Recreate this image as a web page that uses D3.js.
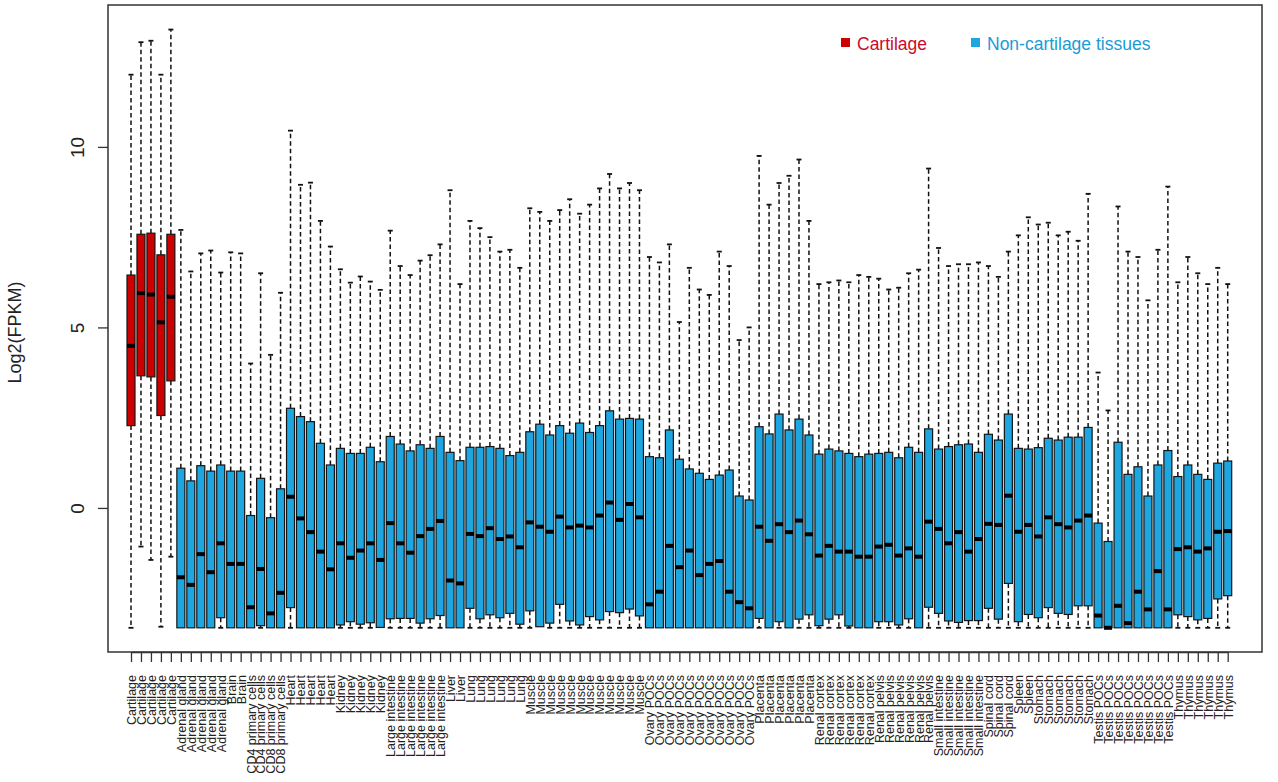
<!DOCTYPE html>
<html>
<head>
<meta charset="utf-8">
<script src="https://cdn.jsdelivr.net/npm/d3@7/dist/d3.min.js"></script>
<style>
  html, body { margin: 0; padding: 0; background: #fff; }
  svg { display: block; font-family: "Liberation Sans", Arial, sans-serif; }
</style>
</head>
<body>
<svg id="chart" width="1278" height="782"></svg>
<script>
// Expression (log2 FPKM) distributions per sample, grouped by tissue.
const FLOOR = -3.32;

const tissues = [
  "Cartilage","Cartilage","Cartilage","Cartilage","Cartilage",
  "Adrenal gland","Adrenal gland","Adrenal gland","Adrenal gland","Adrenal gland",
  "Brain","Brain",
  "CD4 primary cells","CD4 primary cells",
  "CD8 primary cells","CD8 primary cells",
  "Heart","Heart","Heart","Heart","Heart",
  "Kidney","Kidney","Kidney","Kidney","Kidney",
  "Large intestine","Large intestine","Large intestine","Large intestine","Large intestine","Large intestine",
  "Liver","Liver",
  "Lung","Lung","Lung","Lung","Lung","Lung",
  "Muscle","Muscle","Muscle","Muscle","Muscle","Muscle","Muscle","Muscle","Muscle","Muscle","Muscle","Muscle",
  "Ovary POCs","Ovary POCs","Ovary POCs","Ovary POCs","Ovary POCs","Ovary POCs","Ovary POCs","Ovary POCs","Ovary POCs","Ovary POCs","Ovary POCs",
  "Placenta","Placenta","Placenta","Placenta","Placenta","Placenta",
  "Renal cortex","Renal cortex","Renal cortex","Renal cortex","Renal cortex","Renal cortex",
  "Renal pelvis","Renal pelvis","Renal pelvis","Renal pelvis","Renal pelvis","Renal pelvis",
  "Small intestine","Small intestine","Small intestine","Small intestine","Small intestine",
  "Spinal cord","Spinal cord","Spinal cord",
  "Spleen","Spleen",
  "Stomach","Stomach","Stomach","Stomach","Stomach","Stomach",
  "Testis POCs","Testis POCs","Testis POCs","Testis POCs","Testis POCs","Testis POCs","Testis POCs","Testis POCs",
  "Thymus","Thymus","Thymus","Thymus","Thymus","Thymus"
];

// Upper whisker ends
const upperWhisker = [
  12.0, 12.9, 12.94, 12.0, 13.25,
  7.7, 6.55, 7.05, 7.13, 6.52,
  7.08, 7.05,
  4.0, 6.5,
  4.24, 5.96,
  10.45, 8.95, 9.01, 7.95, 7.24,
  6.61, 6.24, 6.41, 6.27, 6.04,
  7.68, 6.70, 6.45, 6.85, 7.0, 7.3,
  8.8, 6.2,
  7.95, 7.75, 7.5, 7.1, 7.15, 6.65,
  8.3, 8.2, 7.95, 8.25, 8.55, 8.15, 8.4, 8.85, 9.25, 8.85, 9.0, 8.8,
  6.95, 6.8, 7.3, 5.15, 6.65, 6.05, 5.9, 7.1, 6.7, 4.65, 5.0,
  9.75, 8.4, 9.0, 9.2, 9.65, 7.95,
  6.2, 6.25, 6.3, 6.25, 6.45, 6.4,
  6.35, 6.05, 6.1, 6.5, 6.6, 9.4,
  7.2, 6.7, 6.75, 6.75, 6.8,
  6.7, 6.4, 7.1,
  7.55, 8.05,
  7.85, 7.9, 7.55, 7.65, 7.4, 8.7,
  3.75, 2.7, 8.35, 7.1, 6.95, 5.75, 7.15, 8.9,
  6.25, 6.95, 6.5, 6.2, 6.65, 6.2
];

// Upper quartiles
const q3 = [
  6.45, 7.58, 7.61, 7.01, 7.58,
  1.10, 0.75, 1.17, 1.02, 1.19,
  1.02, 1.02,
  -0.21, 0.82,
  -0.27, 0.53,
  2.76, 2.53, 2.39, 1.79, 1.19,
  1.65, 1.51, 1.51, 1.68, 1.28,
  1.98, 1.77, 1.58, 1.75, 1.65, 1.98,
  1.54, 1.31,
  1.68, 1.68, 1.70, 1.65, 1.45, 1.54,
  2.11, 2.32, 2.02, 2.28, 2.07, 2.35, 2.09, 2.28, 2.69, 2.46, 2.48, 2.46,
  1.42, 1.39, 2.16, 1.35, 1.08, 0.96, 0.79, 0.91, 1.05, 0.33, 0.22,
  2.25, 2.05, 2.60, 2.16, 2.46, 2.02,
  1.49, 1.63, 1.58, 1.51, 1.42, 1.49,
  1.51, 1.54, 1.39, 1.68, 1.54, 2.19,
  1.63, 1.70, 1.75, 1.77, 1.54,
  2.04, 1.88, 2.60,
  1.65, 1.63,
  1.67, 1.93, 1.88, 1.96, 1.96, 2.23,
  -0.42, -0.93, 1.82, 0.93, 1.14, 0.33, 1.19, 1.59,
  0.87, 1.19, 0.93, 0.79, 1.24, 1.30
];

// Medians
const medians = [
  4.49, 5.95, 5.91, 5.14, 5.85,
  -1.92, -2.13, -1.28, -1.78, -0.98,
  -1.55, -1.55,
  -2.75, -1.69,
  -2.92, -2.35,
  0.31, -0.29, -0.67, -1.21, -1.70,
  -0.98, -1.38, -1.18, -0.98, -1.44,
  -0.42, -0.98, -1.24, -0.78, -0.58, -0.36,
  -2.01, -2.09,
  -0.72, -0.78, -0.56, -0.86, -0.79, -1.09,
  -0.40, -0.52, -0.66, -0.24, -0.54, -0.49, -0.54, -0.21, 0.15, -0.33, 0.11, -0.26,
  -2.67, -2.32, -1.05, -1.64, -1.18, -1.86, -1.55, -1.47, -2.32, -2.61, -2.78,
  -0.52, -0.91, -0.45, -0.67, -0.35, -0.73,
  -1.32, -1.05, -1.21, -1.21, -1.35, -1.35,
  -1.07, -1.02, -1.32, -1.12, -1.35, -0.38,
  -0.58, -0.98, -0.67, -1.21, -0.86,
  -0.44, -0.47, 0.34,
  -0.66, -0.47,
  -0.79, -0.26, -0.45, -0.54, -0.35, -0.21,
  -2.98, -3.32, -2.71, -3.19, -2.32, -2.81, -1.75, -2.81,
  -1.14, -1.09, -1.21, -1.12, -0.66, -0.64
];

// Lower quartiles
const q1 = [
  2.28, 3.66, 3.63, 2.56, 3.52,
  -3.32, -3.32, -3.32, -3.32, -3.04,
  -3.32, -3.32,
  -3.32, -3.26,
  -3.32, -3.32,
  -2.76, -3.32, -3.32, -3.32, -3.32,
  -3.24, -3.15, -3.22, -3.18, -3.31,
  -3.07, -3.06, -3.06, -3.19, -3.07, -2.98,
  -3.32, -3.32,
  -2.78, -3.07, -2.96, -3.04, -2.92, -3.22,
  -2.85, -3.29, -3.19, -2.67, -3.13, -3.24, -3.01, -3.10, -2.87, -2.90, -2.80, -2.99,
  -3.32, -3.32, -3.32, -3.32, -3.32, -3.32, -3.32, -3.32, -3.32, -3.32, -3.32,
  -3.06, -3.32, -3.15, -3.32, -3.08, -2.96,
  -3.26, -3.08, -2.96, -3.27, -3.32, -3.32,
  -3.15, -3.15, -3.24, -3.07, -3.32, -2.75,
  -2.92, -3.13, -3.17, -3.12, -3.12,
  -2.78, -3.08, -2.09,
  -3.15, -2.95,
  -3.04, -2.76, -2.92, -2.95, -2.71, -2.71,
  -3.32, -3.32, -3.32, -3.32, -3.32, -3.32, -3.32, -3.32,
  -2.96, -3.01, -3.10, -3.06, -2.52, -2.43
];

// Lower whisker ends (non-cartilage samples all reach the floor value)
const cartilageLow = [-3.32, -1.07, -1.44, -3.29, -1.35];
const lowerWhisker = tissues.map((t, i) => i < cartilageLow.length ? cartilageLow[i] : FLOOR);

const yTicks = [0, 5, 10];
const legendItems = ["Cartilage", "Non-cartilage tissues"];

const RED = "#CC0000", BLUE = "#1DA6DF";
const RED_TEXT = "#CC0A2A", BLUE_TEXT = "#1B9BD5";

const svg = d3.select("#chart");
svg.append("rect").attr("width", 1278).attr("height", 782).attr("fill", "#fff");

const plot = { left: 108, right: 1262, top: 5, bottom: 652 };

const x = d3.scalePoint()
  .domain(d3.range(tissues.length))
  .range([131, 1227.7]);

const y = d3.scaleLinear()
  .domain([-3.99, 13.93])
  .range([plot.bottom, plot.top]);

const boxW = 8, stapleW = 4;

const data = tissues.map((t, i) => ({
  i, t,
  hi: upperWhisker[i], q3: q3[i], med: medians[i], q1: q1[i], lo: lowerWhisker[i],
  fill: t === "Cartilage" ? RED : BLUE
}));

const g = svg.append("g");
const wk = g.selectAll("g.box").data(data).join("g").attr("class", "box");

// upper whiskers with staples
wk.append("line")
  .attr("x1", d => x(d.i)).attr("x2", d => x(d.i))
  .attr("y1", d => y(d.q3)).attr("y2", d => y(d.hi))
  .attr("stroke", "#111").attr("stroke-width", 1.5)
  .attr("stroke-dasharray", "4.5,3");

wk.append("line")
  .attr("x1", d => x(d.i) - stapleW / 2 - 0.5).attr("x2", d => x(d.i) + stapleW / 2 + 0.5)
  .attr("y1", d => y(d.hi)).attr("y2", d => y(d.hi))
  .attr("stroke", "#111").attr("stroke-width", 1.8);

// lower whiskers where the box does not already reach the bottom
const withLow = wk.filter(d => d.q1 - d.lo > 0.03);
withLow.append("line")
  .attr("x1", d => x(d.i)).attr("x2", d => x(d.i))
  .attr("y1", d => y(d.q1)).attr("y2", d => y(d.lo))
  .attr("stroke", "#111").attr("stroke-width", 1.5)
  .attr("stroke-dasharray", "4.5,3");
withLow.append("line")
  .attr("x1", d => x(d.i) - stapleW / 2 - 0.5).attr("x2", d => x(d.i) + stapleW / 2 + 0.5)
  .attr("y1", d => y(d.lo)).attr("y2", d => y(d.lo))
  .attr("stroke", "#111").attr("stroke-width", 1.8);

// boxes
wk.append("rect")
  .attr("x", d => x(d.i) - boxW / 2)
  .attr("width", boxW)
  .attr("y", d => y(d.q3))
  .attr("height", d => y(d.q1) - y(d.q3))
  .attr("fill", d => d.fill)
  .attr("stroke", "#151515").attr("stroke-width", 1.2);

// medians
wk.append("line")
  .attr("x1", d => x(d.i) - boxW / 2).attr("x2", d => x(d.i) + boxW / 2)
  .attr("y1", d => y(d.med)).attr("y2", d => y(d.med))
  .attr("stroke", "#000").attr("stroke-width", 4);

// frame
svg.append("rect")
  .attr("x", plot.left).attr("y", plot.top)
  .attr("width", plot.right - plot.left).attr("height", plot.bottom - plot.top)
  .attr("fill", "none").attr("stroke", "#333").attr("stroke-width", 1.5);

// x axis
const xAxis = svg.append("g")
  .attr("transform", `translate(0,${plot.bottom})`)
  .call(d3.axisBottom(x).tickSize(10).tickSizeOuter(0).tickFormat(i => tissues[i]));
xAxis.select(".domain").attr("stroke", "#333").attr("stroke-width", 1.5);
xAxis.selectAll(".tick line").attr("stroke", "#333").attr("stroke-width", 1.3);
xAxis.selectAll(".tick text")
  .attr("transform", "rotate(-90)")
  .attr("x", -23).attr("y", 0).attr("dy", "0.35em")
  .style("text-anchor", "end")
  .attr("fill", "#222")
  .style("font-size", "12.5px");

// y axis
const yAxis = svg.append("g")
  .attr("transform", `translate(${plot.left},0)`)
  .call(d3.axisLeft(y).tickValues(yTicks).tickSize(10).tickSizeOuter(0).tickFormat(d3.format("d")));
yAxis.select(".domain").remove();
yAxis.selectAll(".tick line").attr("stroke", "#333").attr("stroke-width", 1.3);
yAxis.selectAll(".tick text")
  .attr("transform", "translate(-24,0) rotate(-90)")
  .attr("x", 0).attr("y", 0).attr("dy", 0)
  .style("text-anchor", "middle")
  .attr("fill", "#222")
  .style("font-size", "19px");

// y title
svg.append("text")
  .attr("transform", `translate(21,${(plot.top + plot.bottom) / 2 + 4}) rotate(-90)`)
  .attr("text-anchor", "middle")
  .attr("fill", "#222")
  .style("font-size", "18px")
  .text("Log2(FPKM)");

// legend
const legend = svg.append("g");
const legendPos = [841, 971];
const legendColors = [RED, BLUE];
const legendText = [RED_TEXT, BLUE_TEXT];
legendItems.forEach((name, k) => {
  legend.append("rect")
    .attr("x", legendPos[k]).attr("y", 38).attr("width", 9).attr("height", 9)
    .attr("fill", legendColors[k]);
  legend.append("text")
    .attr("x", legendPos[k] + 16).attr("y", 49.5)
    .attr("fill", legendText[k])
    .style("font-size", "17.5px")
    .text(name);
});
</script>
</body>
</html>
